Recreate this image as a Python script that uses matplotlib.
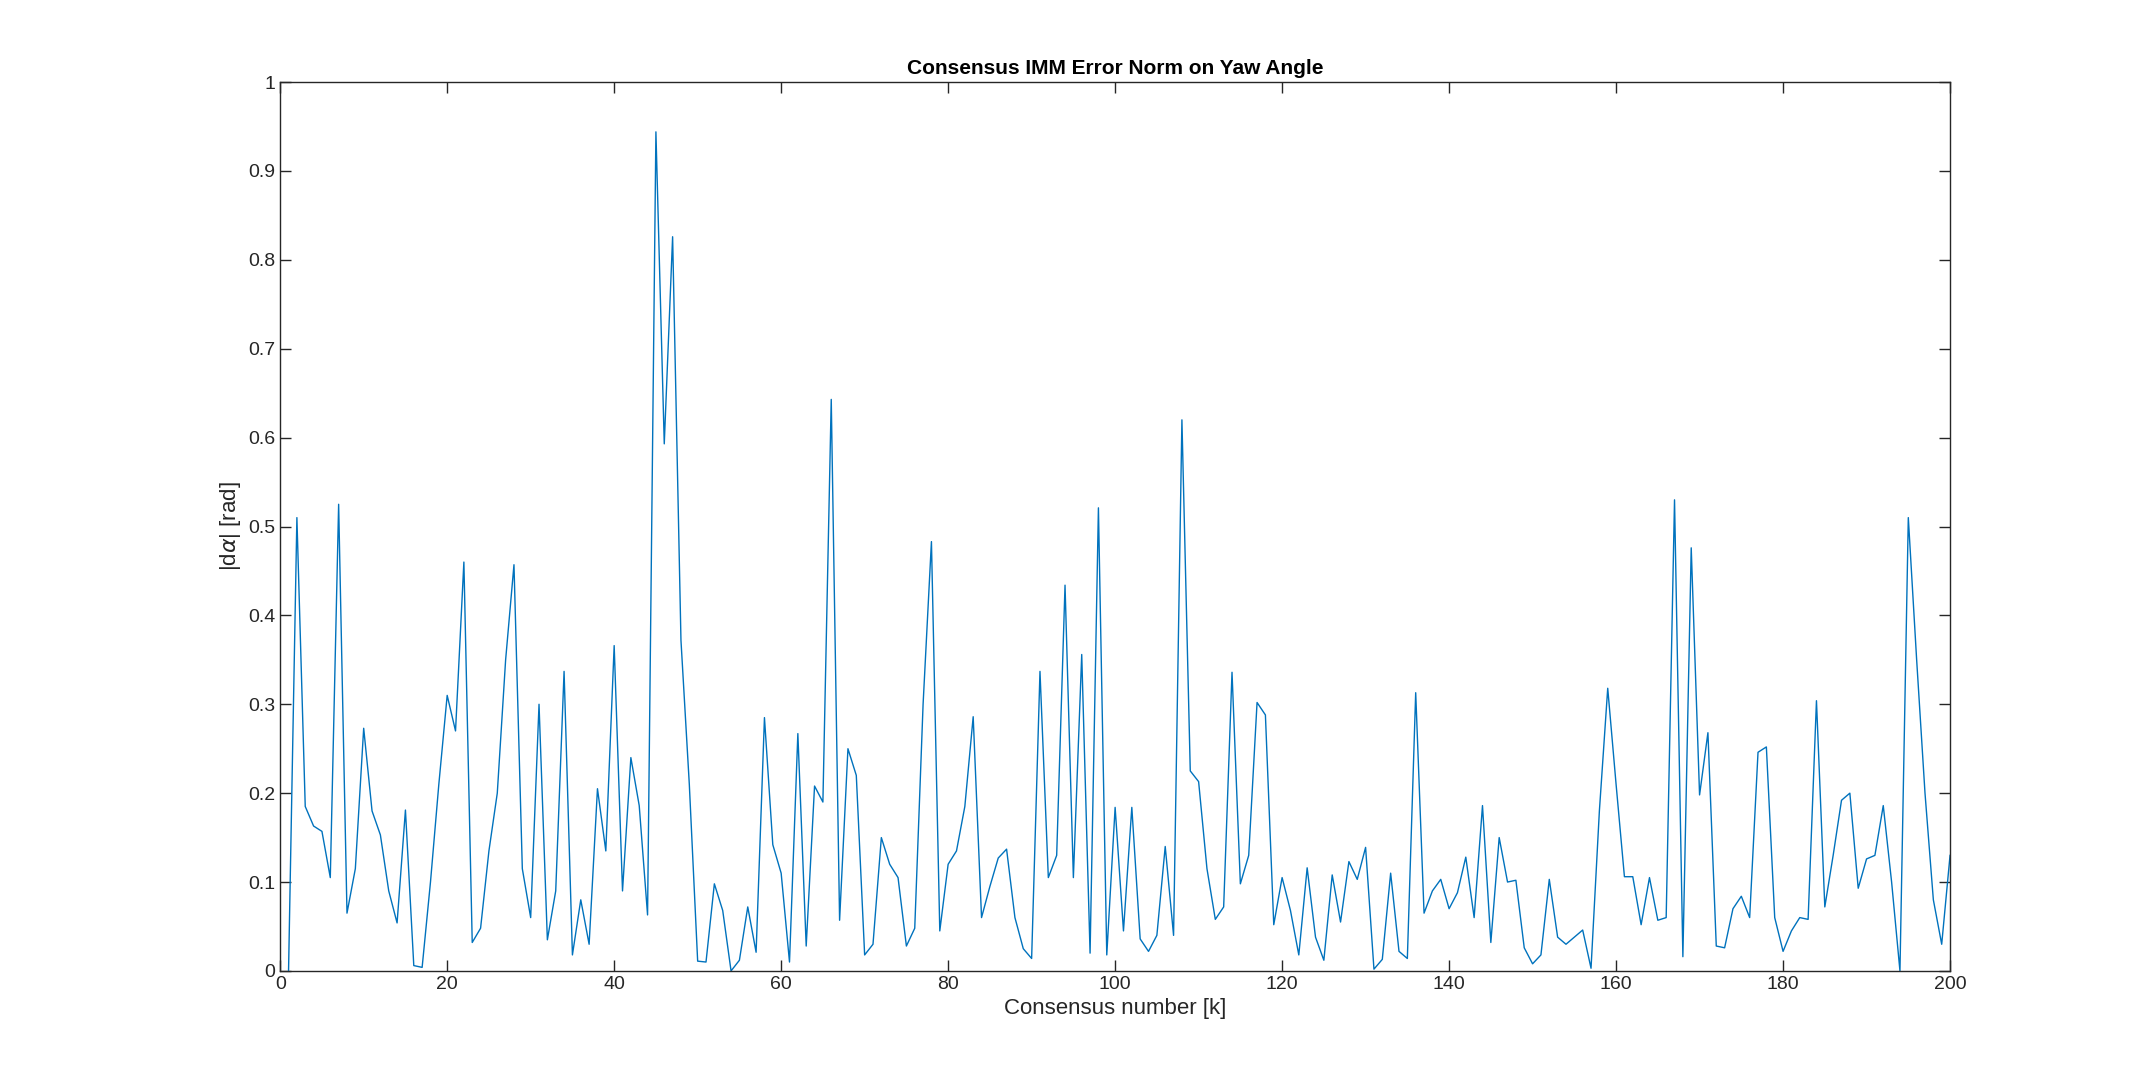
import matplotlib
matplotlib.use("Agg")
import matplotlib.pyplot as plt
import numpy as np

k = list(range(1, 201))
err = [0, 0.51, 0.185, 0.163, 0.157, 0.105, 0.525, 0.065, 0.115, 0.273,
       0.18, 0.153, 0.09, 0.054, 0.181, 0.006, 0.004, 0.1, 0.21, 0.31,
       0.27, 0.46, 0.032, 0.048, 0.135, 0.2, 0.35, 0.457, 0.115, 0.06,
       0.3, 0.035, 0.09, 0.337, 0.018, 0.08, 0.03, 0.205, 0.135, 0.366,
       0.09, 0.24, 0.186, 0.063, 0.944, 0.593, 0.826, 0.372, 0.21, 0.011,
       0.01, 0.098, 0.068, 0.0, 0.012, 0.072, 0.021, 0.285, 0.142, 0.11,
       0.01, 0.267, 0.028, 0.208, 0.19, 0.643, 0.057, 0.25, 0.22, 0.018,
       0.03, 0.15, 0.12, 0.105, 0.028, 0.048, 0.3, 0.483, 0.045, 0.12,
       0.135, 0.185, 0.286, 0.06, 0.095, 0.127, 0.137, 0.06, 0.025, 0.014,
       0.337, 0.105, 0.13, 0.434, 0.105, 0.356, 0.02, 0.521, 0.018, 0.184,
       0.045, 0.184, 0.036, 0.022, 0.04, 0.14, 0.04, 0.62, 0.225, 0.213,
       0.115, 0.058, 0.072, 0.336, 0.098, 0.13, 0.302, 0.288, 0.052, 0.105,
       0.068, 0.018, 0.116, 0.038, 0.012, 0.108, 0.055, 0.123, 0.103, 0.139,
       0.002, 0.013, 0.11, 0.022, 0.014, 0.313, 0.065, 0.09, 0.103, 0.07,
       0.088, 0.128, 0.06, 0.186, 0.032, 0.15, 0.1, 0.102, 0.026, 0.008,
       0.018, 0.103, 0.038, 0.03, 0.038, 0.046, 0.003, 0.18, 0.318, 0.21,
       0.106, 0.106, 0.052, 0.105, 0.057, 0.06, 0.53, 0.016, 0.476, 0.198,
       0.268, 0.028, 0.026, 0.07, 0.084, 0.06, 0.246, 0.252, 0.06, 0.022,
       0.045, 0.06, 0.058, 0.304, 0.072, 0.13, 0.192, 0.2, 0.093, 0.126,
       0.13, 0.186, 0.1, 0.0, 0.51, 0.35, 0.2, 0.08, 0.03, 0.13]

plt.rcParams['font.family'] = ['Liberation Sans', 'DejaVu Sans']
fig = plt.figure(figsize=(21.34, 10.8), dpi=100)
ax = fig.add_axes([0.1313, 0.101, 0.7825, 0.823])
ax.plot(k, err, color='#0072BD', lw=1.0)
ax.set_xlim(0, 200)
ax.set_ylim(0, 1)
ax.set_xticks(np.arange(0, 201, 20))
ax.set_yticks(np.arange(0, 1.01, 0.1))
ax.set_yticklabels(['0'] + [f'{v:.1f}' for v in np.arange(0.1, 0.95, 0.1)] + ['1'])
ax.tick_params(direction='in', top=True, right=True, labelsize=14, length=8, width=1, colors='#262626')
for s in ax.spines.values():
    s.set_color('#262626'); s.set_linewidth(1)
ax.set_title('Consensus IMM Error Norm on Yaw Angle', fontsize=15, fontweight='bold', color='black')
ax.set_xlabel('Consensus number [k]', fontsize=16, color='#262626')
ax.set_ylabel(r'|d$\alpha$| [rad]', fontsize=16, color='#262626')
fig.savefig('out.png', dpi=100)
